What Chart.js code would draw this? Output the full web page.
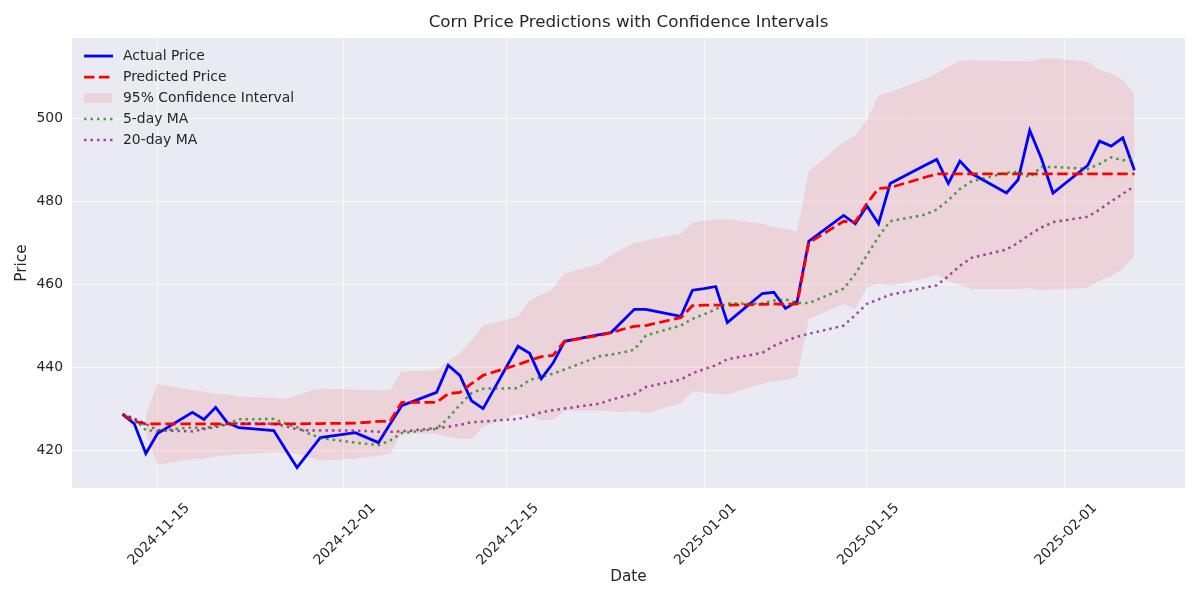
<!DOCTYPE html>
<html lang="en">
<head>
    <meta charset="UTF-8">
    <title>Corn Price Predictions with Confidence Intervals</title>
    <script src="https://cdn.jsdelivr.net/npm/chart.js"></script>
    <style>
        body {
            margin: 0;
            padding: 0;
            background: #ffffff;
        }

        .chart-box {
            width: 1200px;
            height: 600px;
        }
    </style>
</head>
<body>
    <div class="chart-box">
        <canvas id="cornChart" width="1200" height="600"></canvas>
    </div>

    <script>
        // Business days shown on the chart
        const dates = [
            '2024-11-12', '2024-11-13', '2024-11-14', '2024-11-15',
            '2024-11-18', '2024-11-19', '2024-11-20', '2024-11-21', '2024-11-22',
            '2024-11-25', '2024-11-26', '2024-11-27', '2024-11-28', '2024-11-29',
            '2024-12-02', '2024-12-03', '2024-12-04', '2024-12-05', '2024-12-06',
            '2024-12-09', '2024-12-10', '2024-12-11', '2024-12-12', '2024-12-13',
            '2024-12-16', '2024-12-17', '2024-12-18', '2024-12-19', '2024-12-20',
            '2024-12-23', '2024-12-24', '2024-12-25', '2024-12-26', '2024-12-27',
            '2024-12-30', '2024-12-31', '2025-01-01', '2025-01-02', '2025-01-03',
            '2025-01-06', '2025-01-07', '2025-01-08', '2025-01-09', '2025-01-10',
            '2025-01-13', '2025-01-14', '2025-01-15', '2025-01-16', '2025-01-17',
            '2025-01-20', '2025-01-21', '2025-01-22', '2025-01-23', '2025-01-24',
            '2025-01-27', '2025-01-28', '2025-01-29', '2025-01-30', '2025-01-31',
            '2025-02-03', '2025-02-04', '2025-02-05', '2025-02-06', '2025-02-07'
        ];

        const actualPrice = [
            428.7, 426.5, 419.3, 424.1,
            429.2, 427.5, 430.4, 426.7, 425.5,
            424.8, 420.3, 415.9, 419.5, 423.1,
            424.3, 423.1, 421.9, 426.4, 430.8,
            434.0, 440.5, 438.1, 432.0, 430.1,
            445.1, 443.4, 437.3, 441.0, 446.3,
            447.9, 448.4, 451.2, 454.0, 454.0,
            452.3, 458.6, 459.0, 459.5, 450.8,
            457.8, 458.1, 454.2, 455.9, 470.4,
            476.6, 474.6, 478.9, 474.6, 484.3,
            488.7, 490.1, 484.3, 489.7, 486.7,
            482.0, 485.2, 497.1, 490.3, 482.0,
            488.7, 494.5, 493.3, 495.3, 487.5
        ];

        const predictedPrice = [
            428.7, 427.0, 426.4, 426.4,
            426.4, 426.4, 426.4, 426.4, 426.4,
            426.4, 426.4, 426.4, 426.5, 426.5,
            426.6, 426.8, 427.0, 427.0, 431.6,
            431.6, 433.7, 434.0, 436.1, 438.1,
            440.7, 441.7, 442.6, 442.9, 446.3,
            447.7, 448.4, 449.2, 449.9, 450.1,
            452.0, 454.9, 455.0, 455.0, 455.0,
            455.2, 455.3, 455.2, 455.3, 470.0,
            475.2, 475.0, 479.5, 483.1, 483.3,
            485.8, 486.6, 486.6, 486.6, 486.6,
            486.6, 486.6, 486.6, 486.6, 486.6,
            486.6, 486.6, 486.6, 486.6, 486.6
        ];

        const ciUpper = [
            null, null, 428.5, 436.1,
            434.5, 434.2, 433.7, 433.5, 433.0,
            432.7, 432.4, 433.3, 434.2, 434.9,
            434.7, 434.6, 434.5, 434.5, 439.0,
            439.3, 441.5, 443.5, 446.5, 450.1,
            452.3, 456.1, 457.5, 459.0, 462.6,
            465.0, 467.0, 468.5, 470.0, 470.6,
            472.2, 474.9, 475.3, 475.7, 475.7,
            474.6, 473.8, 473.3, 472.8, 487.2,
            494.3, 495.9, 499.5, 505.5, 506.3,
            509.5, 510.8, 512.4, 513.8, 514.0,
            513.8, 513.8, 513.7, 514.4, 514.4,
            513.6, 511.6, 510.8, 509.2, 506.0
        ];

        const ciLower = [
            null, null, 424.0, 416.6,
            418.0, 418.1, 418.6, 418.8, 419.1,
            419.6, 419.5, 419.2, 418.4, 417.6,
            418.0, 418.4, 418.8, 419.2, 424.2,
            424.0, 423.3, 422.8, 422.8, 425.8,
            428.8, 428.5, 427.2, 427.4, 429.6,
            429.6, 429.4, 429.3, 429.6, 429.0,
            431.4, 434.2, 433.9, 433.7, 433.5,
            436.1, 436.6, 437.0, 437.7, 451.7,
            455.3, 454.1, 459.3, 460.2, 459.6,
            461.5, 462.2, 460.8, 459.9, 458.9,
            458.9, 458.9, 459.1, 458.6, 458.8,
            459.2, 461.0, 461.9, 463.8, 467.0
        ];

        const ma5 = [
            428.7, 427.6, 424.9, 424.7,
            425.6, 425.3, 426.0, 426.4, 427.5,
            427.6, 426.5, 425.6, 424.1, 423.0,
            421.9, 421.6, 421.3, 422.4, 424.2,
            425.2, 427.8, 431.0, 433.8, 434.9,
            435.0, 437.0, 437.7, 438.5, 439.5,
            442.7, 443.1, 443.6, 444.3, 447.7,
            450.1, 451.7, 452.8, 454.0, 455.4,
            455.4, 456.1, 456.4, 455.5, 455.5,
            459.0, 462.5, 467.0, 471.5, 475.2,
            476.8, 478.0, 480.3, 483.0, 484.8,
            486.9, 487.1, 485.8, 488.3, 488.3,
            487.8, 489.0, 490.6, 489.9, 490.3
        ];

        const ma20 = [
            428.8, 427.7, 426.4, 424.9,
            424.6, 425.2, 425.6, 426.3, 426.6,
            426.4, 425.9, 425.1, 424.8, 424.8,
            424.8, 424.7, 424.5, 424.5, 424.6,
            425.4, 425.7, 426.2, 426.8, 427.0,
            427.6, 428.3, 429.2, 429.7, 430.1,
            431.3, 432.2, 433.0, 433.6, 435.3,
            437.1, 438.6, 439.6, 440.5, 442.0,
            443.5, 445.2, 446.4, 447.4, 448.1,
            450.1, 452.6, 455.3, 456.4, 457.5,
            459.2, 459.8, 462.0, 464.5, 466.4,
            468.4, 470.0, 472.0, 473.7, 475.0,
            476.3, 478.0, 480.0, 481.8, 483.6
        ];

        const xTickLabels = ['2024-11-15', '2024-12-01', '2024-12-15', '2025-01-01', '2025-01-15', '2025-02-01'];
        const yTickValues = [420, 440, 460, 480, 500];

        const textColor = '#262626';
        const fontFamily = "'DejaVu Sans', sans-serif";
        const gridColor = 'rgba(255, 255, 255, 0.7)';

        // day number relative to the first x tick
        const baseDay = Date.parse(xTickLabels[0] + 'T00:00:00Z');
        function dayOf(s) {
            return (Date.parse(s + 'T00:00:00Z') - baseDay) / 86400000;
        }

        function toPoints(values) {
            const pts = [];
            values.forEach((v, i) => {
                if (v !== null) pts.push({ x: dayOf(dates[i]), y: v });
            });
            return pts;
        }

        // matplotlib style 5% margins
        const xFirst = dayOf(dates[0]);
        const xLast = dayOf(dates[dates.length - 1]);
        const xPad = (xLast - xFirst) * 0.05;
        const allY = [].concat(actualPrice, predictedPrice, ma5, ma20, ciUpper, ciLower).filter(v => v !== null);
        const yMinData = Math.min(...allY);
        const yMaxData = Math.max(...allY);
        const yPad = (yMaxData - yMinData) * 0.05;

        // grey plot background like seaborn darkgrid
        const plotBackground = {
            id: 'plotBackground',
            beforeDraw(chart) {
                const { ctx, chartArea } = chart;
                ctx.save();
                ctx.fillStyle = '#EAEAF2';
                ctx.fillRect(chartArea.left, chartArea.top, chartArea.right - chartArea.left, chartArea.bottom - chartArea.top);
                ctx.restore();
            }
        };

        // legend in the upper left corner, inside the plot
        const insideLegend = {
            id: 'insideLegend',
            afterDatasetsDraw(chart) {
                const { ctx, chartArea } = chart;
                const x0 = chartArea.left + 12;
                const handleLen = 29;
                const textX = chartArea.left + 51;
                const items = chart.data.datasets
                    .filter(ds => ds.legendKind)
                    .sort((a, b) => a.legendIndex - b.legendIndex);
                let y = chartArea.top + 18;
                ctx.save();
                ctx.font = '13.9px ' + fontFamily;
                ctx.textBaseline = 'middle';
                ctx.textAlign = 'left';
                items.forEach(ds => {
                    if (ds.legendKind === 'patch') {
                        ctx.fillStyle = ds.backgroundColor;
                        ctx.fillRect(x0, y - 5, 28, 10);
                    } else {
                        ctx.strokeStyle = ds.borderColor;
                        ctx.lineWidth = ds.borderWidth;
                        ctx.setLineDash(ds.borderDash || []);
                        ctx.beginPath();
                        ctx.moveTo(x0, y);
                        ctx.lineTo(x0 + handleLen, y);
                        ctx.stroke();
                        ctx.setLineDash([]);
                    }
                    ctx.fillStyle = textColor;
                    ctx.fillText(ds.label, textX, y);
                    y += 21;
                });
                ctx.restore();
            }
        };

        const ctx = document.getElementById('cornChart').getContext('2d');
        const cornChart = new Chart(ctx, {
            type: 'line',
            data: {
                datasets: [
                    {
                        label: 'CI lower',
                        data: toPoints(ciLower),
                        borderWidth: 0,
                        borderColor: 'rgba(0,0,0,0)',
                        pointRadius: 0,
                        fill: false,
                        order: 10
                    },
                    {
                        label: '95% Confidence Interval',
                        data: toPoints(ciUpper),
                        borderWidth: 0,
                        borderColor: 'rgba(0,0,0,0)',
                        backgroundColor: 'rgba(255, 0, 0, 0.1)',
                        pointRadius: 0,
                        fill: '-1',
                        order: 9,
                        legendKind: 'patch',
                        legendIndex: 2
                    },
                    {
                        label: 'Actual Price',
                        data: toPoints(actualPrice),
                        borderColor: '#0000ff',
                        borderWidth: 2.8,
                        pointRadius: 0,
                        fill: false,
                        order: 4,
                        legendKind: 'line',
                        legendIndex: 0
                    },
                    {
                        label: 'Predicted Price',
                        data: toPoints(predictedPrice),
                        borderColor: '#ff0000',
                        borderWidth: 2.8,
                        borderDash: [10.5, 4.5],
                        pointRadius: 0,
                        fill: false,
                        order: 3,
                        legendKind: 'line',
                        legendIndex: 1
                    },
                    {
                        label: '5-day MA',
                        data: toPoints(ma5),
                        borderColor: 'rgba(0, 128, 0, 0.7)',
                        borderWidth: 2.5,
                        borderDash: [2.5, 4],
                        pointRadius: 0,
                        fill: false,
                        order: 2,
                        legendKind: 'line',
                        legendIndex: 3
                    },
                    {
                        label: '20-day MA',
                        data: toPoints(ma20),
                        borderColor: 'rgba(128, 0, 128, 0.7)',
                        borderWidth: 2.5,
                        borderDash: [2.5, 4],
                        pointRadius: 0,
                        fill: false,
                        order: 1,
                        legendKind: 'line',
                        legendIndex: 4
                    }
                ]
            },
            options: {
                responsive: false,
                animation: false,
                devicePixelRatio: 1,
                layout: {
                    padding: { left: 0, right: 15, top: 0, bottom: 0 }
                },
                elements: {
                    line: { tension: 0, borderCapStyle: 'butt' }
                },
                plugins: {
                    legend: { display: false },
                    tooltip: { enabled: false },
                    title: {
                        display: true,
                        fullSize: false,
                        text: 'Corn Price Predictions with Confidence Intervals',
                        color: textColor,
                        font: { family: fontFamily, size: 16.7, weight: 'normal' },
                        padding: { top: 13, bottom: 5 }
                    }
                },
                scales: {
                    x: {
                        type: 'linear',
                        min: xFirst - xPad,
                        max: xLast + xPad,
                        afterFit(scale) { scale.height = 112; },
                        afterBuildTicks(scale) {
                            scale.ticks = xTickLabels.map(s => ({ value: dayOf(s), label: s }));
                        },
                        ticks: {
                            autoSkip: false,
                            minRotation: 45,
                            maxRotation: 45,
                            labelOffset: 30,
                            padding: 12,
                            color: textColor,
                            font: { family: fontFamily, size: 13.9 },
                            callback: function (value) {
                                const hit = xTickLabels.find(s => dayOf(s) === value);
                                return hit || '';
                            }
                        },
                        grid: { color: gridColor, lineWidth: 1, drawTicks: false },
                        border: { display: false },
                        title: {
                            display: true,
                            text: 'Date',
                            color: textColor,
                            font: { family: fontFamily, size: 15.3 },
                            padding: { top: 0, bottom: 14 }
                        }
                    },
                    y: {
                        type: 'linear',
                        min: yMinData - yPad,
                        max: yMaxData + yPad,
                        afterFit(scale) { scale.width = 72; },
                        afterBuildTicks(scale) {
                            scale.ticks = yTickValues.map(v => ({ value: v }));
                        },
                        ticks: {
                            padding: 9,
                            color: textColor,
                            font: { family: fontFamily, size: 13.9 },
                            callback: v => String(v)
                        },
                        grid: { color: gridColor, lineWidth: 1, drawTicks: false },
                        border: { display: false },
                        title: {
                            display: true,
                            text: 'Price',
                            color: textColor,
                            font: { family: fontFamily, size: 15.3 },
                            padding: { top: 13, bottom: 0 }
                        }
                    }
                }
            },
            plugins: [plotBackground, insideLegend]
        });
    </script>
</body>
</html>
